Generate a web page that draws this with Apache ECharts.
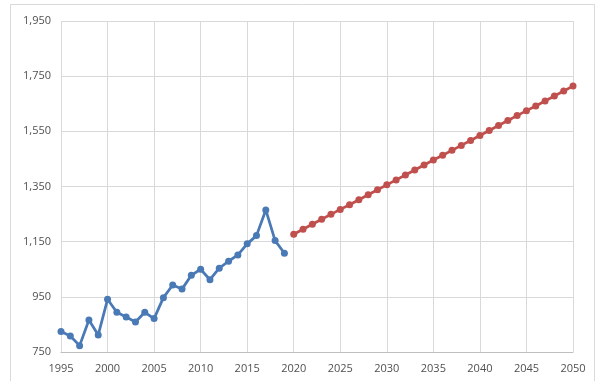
<!DOCTYPE html>
<html>
<head>
<meta charset="utf-8">
<script src="https://cdn.jsdelivr.net/npm/echarts@6/dist/echarts.min.js"></script>
<style>html,body{margin:0;padding:0;background:#fff}#c{width:597px;height:381px}</style>
</head>
<body>
<div id="c"></div>
<script>
const histYears = [1995,1996,1997,1998,1999,2000,2001,2002,2003,2004,2005,2006,2007,2008,2009,2010,2011,2012,2013,2014,2015,2016,2017,2018,2019];
const histValues = [824,808,773,866,812,941,894,877,859,894,871,947,993,978,1028,1050,1012,1054,1079,1102,1142,1172,1265,1154,1108];
const projYears = [2020,2021,2022,2023,2024,2025,2026,2027,2028,2029,2030,2031,2032,2033,2034,2035,2036,2037,2038,2039,2040,2041,2042,2043,2044,2045,2046,2047,2048,2049,2050];
const projValues = [1177,1195,1213,1231,1249,1267,1284,1302,1320,1338,1356,1374,1392,1410,1428,1446,1463,1481,1499,1517,1535,1553,1571,1589,1607,1625,1642,1660,1678,1696,1714];
const xTicks = [1995,2000,2005,2010,2015,2020,2025,2030,2035,2040,2045,2050];
const yTicks = [750,950,1150,1350,1550,1750,1950];

const chart = echarts.init(document.getElementById('c'), null, {renderer:'canvas'});
const font = 'Open Sans';
chart.setOption({
  animation:false,
  backgroundColor:'#fff',
  graphic:[{type:'rect', shape:{x:10.5,y:4.5,width:584,height:400}, style:{fill:'none', stroke:'#d9d9d9', lineWidth:1}, silent:true}],
  grid:{left:61, right:24, top:21, bottom:29, containLabel:false},
  xAxis:{
    type:'value', min:xTicks[0], max:xTicks[xTicks.length-1], interval:5,
    axisLine:{show:true, lineStyle:{color:'#bfbfbf', width:1}},
    axisTick:{show:false},
    splitLine:{show:true, lineStyle:{color:'#d9d9d9', width:1}},
    axisLabel:{color:'#505050', fontFamily:font, fontSize:11, margin:11, formatter:v=>String(v)}
  },
  yAxis:{
    type:'value', min:yTicks[0], max:yTicks[yTicks.length-1], interval:200,
    axisLine:{show:false}, axisTick:{show:false},
    splitLine:{show:true, lineStyle:{color:'#d9d9d9', width:1}},
    axisLabel:{color:'#505050', fontFamily:font, fontSize:11, margin:10,
      formatter:v=>v.toLocaleString('en-US')}
  },
  series:[
    {type:'line', data:histYears.map((y,i)=>[y,histValues[i]]), symbol:'circle', symbolSize:7,
     lineStyle:{color:'#4a7ab6', width:2.75}, itemStyle:{color:'#4a7ab6'}},
    {type:'line', data:projYears.map((y,i)=>[y,projValues[i]]), symbol:'circle', symbolSize:7,
     lineStyle:{color:'#c0504d', width:2.75}, itemStyle:{color:'#c0504d'}}
  ]
});
</script>
</body>
</html>
